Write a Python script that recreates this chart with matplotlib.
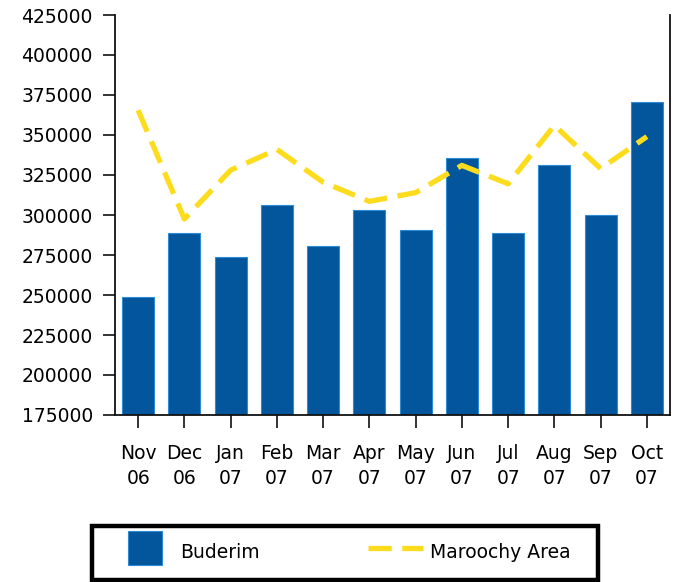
import matplotlib
matplotlib.use("Agg")
import matplotlib.pyplot as plt
from matplotlib.lines import Line2D
from matplotlib.patches import Rectangle
import numpy as np

months = ["Nov\n06", "Dec\n06", "Jan\n07", "Feb\n07", "Mar\n07", "Apr\n07",
          "May\n07", "Jun\n07", "Jul\n07", "Aug\n07", "Sep\n07", "Oct\n07"]
buderim = [248500, 289000, 273500, 306000, 280500, 303000,
           290500, 335500, 289000, 331000, 300000, 370500]
maroochy = [365500, 297500, 328000, 341000, 320500, 308500,
            314000, 331000, 319500, 356000, 329000, 349000]
yticks = np.arange(175000, 425001, 25000)

BAR_COLOR = "#03569b"
BAR_EDGE = "#2d8ad6"
LINE_COLOR = "#fddc1e"
FS = 13.5


def main():
    fig = plt.figure(figsize=(6.8, 5.82), dpi=100)
    ax = fig.add_axes([115 / 680, 1 - 415 / 582, 555 / 680, 400 / 582])

    x = np.arange(len(months))
    ax.bar(x, buderim, width=0.69, color=BAR_COLOR, edgecolor=BAR_EDGE,
           linewidth=0.8, zorder=2)
    ax.plot(x, maroochy, color=LINE_COLOR, linewidth=3.8,
            dashes=(4.4, 2.0), zorder=3)

    ax.set_xlim(-0.5, len(months) - 0.5)
    ax.set_ylim(175000, 425000)
    ax.set_yticks(yticks)
    ax.set_yticklabels([str(v) for v in yticks], fontsize=FS, color="black")
    ax.set_xticks(x)
    ax.set_xticklabels(months, fontsize=FS, color="black", linespacing=1.4)
    ax.tick_params(axis="y", length=9, width=1.2, pad=7, color="#111111")
    ax.tick_params(axis="x", length=9, width=1.2, pad=12, color="#111111")

    ax.spines["top"].set_visible(False)
    for s in ["left", "bottom", "right"]:
        ax.spines[s].set_linewidth(1.3)
        ax.spines[s].set_color("#111111")

    handles = [
        Line2D([], [], linestyle="none", marker="s", markersize=24.5,
               markerfacecolor=BAR_COLOR, markeredgecolor=BAR_EDGE,
               markeredgewidth=0.8),
        Line2D([], [], color=LINE_COLOR, linewidth=3.8, dashes=(4.4, 2.0)),
    ]
    fig.legend(handles, ["Buderim", "Maroochy Area"], loc="center left",
               bbox_to_anchor=(118 / 680, 1 - 552 / 582), ncol=2,
               frameon=False, borderpad=0, borderaxespad=0,
               handlelength=2.9, handleheight=1.9, handletextpad=0.4,
               columnspacing=5.8, prop={"size": FS})
    fig.add_artist(Rectangle((92 / 680, 1 - 580 / 582), 506 / 680, 54 / 582,
                             transform=fig.transFigure, fill=False,
                             edgecolor="black", linewidth=3.2))

    plt.savefig("out.png", dpi=100)
    plt.close()


if __name__ == "__main__":
    main()
